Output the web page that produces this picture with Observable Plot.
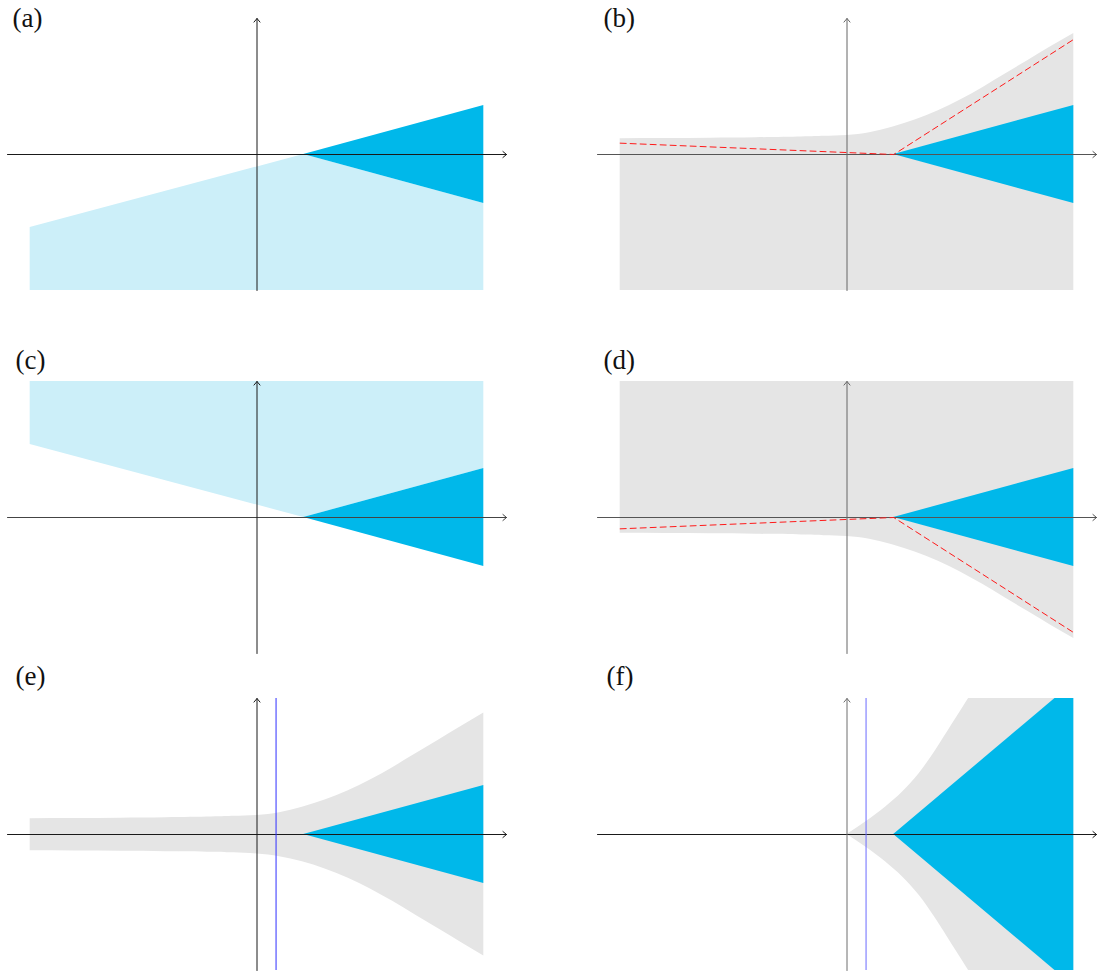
<!DOCTYPE html>
<html>
<head>
<meta charset="utf-8">
<script src="https://cdn.jsdelivr.net/npm/d3@7"></script>
<script src="https://cdn.jsdelivr.net/npm/@observablehq/plot@0.6"></script>
<style>
  html, body { margin: 0; padding: 0; background: #fff; }
  #root { position: relative; width: 1097px; height: 973px; overflow: hidden; }
  #root svg { position: absolute; }
</style>
</head>
<body>
<div id="root"></div>
<script>
// ---------- data ----------
const panelLabels = ["(a)", "(b)", "(c)", "(d)", "(e)", "(f)"];
const xAxisRange = [-5.5, 5.5];
const yAxisRange = [-3, 3];

// narrow cone (a–e)
const coneX = [1.03, 5];
const coneHalf = [0, 1.08];
// wide cone (f)
const coneWideX = [1.03, 5];
const coneWideHalf = [0, 3.35];

// light region (a): below the V
const lightAX = [-5, 1.03, 5];
const lightATop = [-1.61, 0, -1.08];
const lightABottom = [-3, -3, -3];
// light region (c): above the V
const lightCX = [-5, 1.03, 5];
const lightCBottom = [1.61, 0, 1.08];
const lightCTop = [3, 3, 3];

// grey envelope (b, d, e)
const envX = [-5, -4, -3, -2, -1, -0.5, 0, 0.5, 1, 1.5, 2, 2.5, 3, 3.5, 4, 4.5, 5];
const envUpperB = [0.35, 0.355, 0.36, 0.37, 0.385, 0.40, 0.42, 0.48, 0.60, 0.76, 0.96, 1.20, 1.48, 1.78, 2.08, 2.38, 2.67];
const envLowerD = [-0.35, -0.355, -0.36, -0.37, -0.385, -0.40, -0.42, -0.48, -0.60, -0.76, -0.96, -1.20, -1.48, -1.78, -2.08, -2.38, -2.67];
const envUpperE = [0.35, 0.355, 0.36, 0.37, 0.385, 0.40, 0.42, 0.48, 0.60, 0.76, 0.96, 1.20, 1.48, 1.78, 2.08, 2.38, 2.68];
const envLowerE = [-0.36, -0.365, -0.37, -0.38, -0.39, -0.405, -0.43, -0.49, -0.60, -0.76, -0.96, -1.20, -1.48, -1.78, -2.08, -2.38, -2.68];

// red dashed broken lines (b, d)
const redX = [-5, 1.03, 5];
const redYB = [0.25, 0, 2.54];
const redYD = [-0.25, 0, -2.54];

// grey envelope (f) (leaves the frame past x ≈ 2.7)
const envFX = [0, 0.42, 0.86, 1.22, 1.59, 1.95, 2.32, 2.68, 3.05, 5];
const envFUpper = [0, 0.28, 0.61, 0.93, 1.34, 1.85, 2.43, 3.0, 3.6, 3.6];
const envFLower = [0, -0.28, -0.61, -0.93, -1.34, -1.85, -2.43, -3.0, -3.6, -3.6];

// vertical blue marker (e, f)
const markerX = [0.42];

// ---------- styles & layout ----------
const CYAN = "#00B8EA";
const LIGHT = "#CCEFF9";
const GREY = "#E5E5E5";

const layout = [
  {left: 0,   top: -22, dx: 5, dy: 0,   axisX: "#1a1a1a", axisY: "#1a1a1a"},
  {left: 590, top: -22, dx: 6, dy: 0,   axisX: "#555", axisY: "#666"},
  {left: 0,   top: 341, dx: 8, dy: -21, axisX: "#444", axisY: "#1a1a1a"},
  {left: 590, top: 341, dx: 6, dy: -21, axisX: "#555", axisY: "#666"},
  {left: 0,   top: 658, dx: 8, dy: -22, axisX: "#1a1a1a", axisY: "#1a1a1a"},
  {left: 590, top: 658, dx: 9, dy: -22, axisX: "#1a1a1a", axisY: "#6e6e6e"}
];

const zip = (xs, cols) => xs.map((x, i) => {
  const o = {x};
  for (const k in cols) o[k] = cols[k][i];
  return o;
});

const cone = zip(coneX, {y1: coneHalf.map(v => -v), y2: coneHalf});
const coneWide = zip(coneWideX, {y1: coneWideHalf.map(v => -v), y2: coneWideHalf});

function axes(L) {
  return [
    Plot.arrow([{x1: xAxisRange[0], y1: 0, x2: xAxisRange[1], y2: 0}],
      {x1: "x1", y1: "y1", x2: "x2", y2: "y2", stroke: L.axisX, strokeWidth: 1, headLength: 7, headAngle: 80}),
    Plot.arrow([{x1: 0, y1: yAxisRange[0], x2: 0, y2: yAxisRange[1]}],
      {x1: "x1", y1: "y1", x2: "x2", y2: "y2", stroke: L.axisY, strokeWidth: 1, headLength: 7, headAngle: 80})
  ];
}

function label(i) {
  const L = layout[i];
  return Plot.text([panelLabels[i]], {
    frameAnchor: "top-left", text: d => d, dx: L.dx, dy: L.dy,
    textAnchor: "start", lineAnchor: "middle",
    fontSize: 27, fontFamily: "Liberation Serif, DejaVu Serif, serif", fill: "#111"
  });
}

const panelMarks = [
  // (a)
  L => [
    Plot.areaY(zip(lightAX, {y1: lightABottom, y2: lightATop}), {x: "x", y1: "y1", y2: "y2", fill: LIGHT}),
    Plot.areaY(cone, {x: "x", y1: "y1", y2: "y2", fill: CYAN}),
    ...axes(L)
  ],
  // (b)
  L => [
    Plot.areaY(zip(envX, {y2: envUpperB}), {x: "x", y1: yAxisRange[0], y2: "y2", fill: GREY, curve: "natural"}),
    Plot.areaY(cone, {x: "x", y1: "y1", y2: "y2", fill: CYAN}),
    ...axes(L),
    Plot.line(zip(redX, {y: redYB}), {x: "x", y: "y", stroke: "#ff1a1a", strokeWidth: 1, strokeDasharray: "6,4"})
  ],
  // (c)
  L => [
    Plot.areaY(zip(lightCX, {y1: lightCBottom, y2: lightCTop}), {x: "x", y1: "y1", y2: "y2", fill: LIGHT}),
    Plot.areaY(cone, {x: "x", y1: "y1", y2: "y2", fill: CYAN}),
    ...axes(L)
  ],
  // (d)
  L => [
    Plot.areaY(zip(envX, {y1: envLowerD}), {x: "x", y1: "y1", y2: yAxisRange[1], fill: GREY, curve: "natural"}),
    Plot.areaY(cone, {x: "x", y1: "y1", y2: "y2", fill: CYAN}),
    ...axes(L),
    Plot.line(zip(redX, {y: redYD}), {x: "x", y: "y", stroke: "#ff1a1a", strokeWidth: 1, strokeDasharray: "6,4"})
  ],
  // (e)
  L => [
    Plot.areaY(zip(envX, {y1: envLowerE, y2: envUpperE}), {x: "x", y1: "y1", y2: "y2", fill: GREY, curve: "natural"}),
    Plot.areaY(cone, {x: "x", y1: "y1", y2: "y2", fill: CYAN}),
    ...axes(L),
    Plot.ruleX(markerX, {stroke: "#2f2fff", strokeWidth: 1})
  ],
  // (f)
  L => [
    Plot.areaY(zip(envFX, {y1: envFLower, y2: envFUpper}), {x: "x", y1: "y1", y2: "y2", fill: GREY, curve: "monotone-x", clip: true}),
    Plot.areaY(coneWide, {x: "x", y1: "y1", y2: "y2", fill: CYAN, clip: true}),
    ...axes(L),
    Plot.ruleX(markerX, {stroke: "#6b6bff", strokeWidth: 1})
  ]
];

const root = document.getElementById("root");
panelLabels.forEach((lab, i) => {
  const L = layout[i];
  const svg = Plot.plot({
    width: 545,
    height: 40 + 272 + 6,
    marginLeft: 7, marginRight: 39, marginTop: 40, marginBottom: 6,
    x: {domain: xAxisRange, axis: null},
    y: {domain: yAxisRange, axis: null},
    style: {background: "transparent", overflow: "visible"},
    marks: [...panelMarks[i](L), label(i)]
  });
  svg.style.left = L.left + "px";
  svg.style.top = L.top + "px";
  root.appendChild(svg);
});
</script>
</body>
</html>
